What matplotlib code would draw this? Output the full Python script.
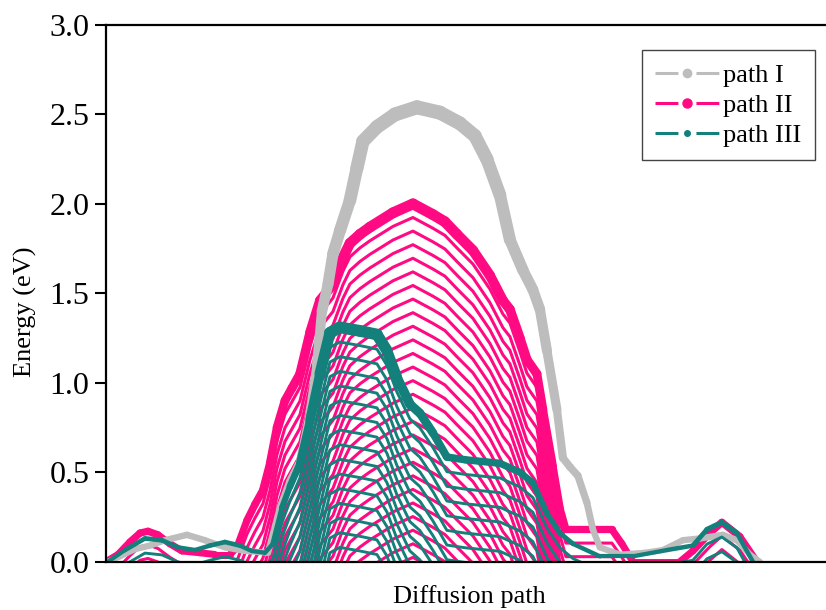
import matplotlib
matplotlib.use("Agg")
import matplotlib.pyplot as plt
from matplotlib.collections import LineCollection
from matplotlib.lines import Line2D
import numpy as np

plt.rcParams['font.family'] = ['Liberation Serif', 'DejaVu Serif']

# coordenada a lo largo del camino (unidades arbitrarias) y energia (eV)
x_path1 = [2, 14, 29, 44, 59, 81, 99, 119, 139, 162,
           174, 184, 194, 204, 211, 216, 222, 227, 234, 244,
           251, 257, 271, 289, 311, 334, 354, 369, 381, 394,
           404, 417, 427, 434, 441, 451, 457, 464, 472, 481,
           487, 494, 514, 539, 557, 577, 594, 617, 631, 644, 654]
e_path1 = [0.0, 0.03, 0.07, 0.09, 0.12, 0.15, 0.12, 0.08, 0.06, 0.05,
           0.3, 0.45, 0.56, 0.83, 1.1, 1.4, 1.55, 1.72, 1.85, 2.02,
           2.2, 2.35, 2.43, 2.5, 2.54, 2.51, 2.45, 2.38, 2.25, 2.05,
           1.8, 1.63, 1.52, 1.41, 1.18, 0.85, 0.58, 0.53, 0.48, 0.33,
           0.18, 0.08, 0.04, 0.05, 0.065, 0.12, 0.13, 0.15, 0.12, 0.04, 0.0]

x_path2 = [0, 12, 24, 34, 42, 52, 64, 76, 94, 109,
           124, 131, 141, 149, 157, 164, 171, 179, 186, 194,
           204, 214, 227, 237, 244, 254, 264, 287, 307, 327,
           339, 351, 367, 384, 397, 404, 414, 421, 431, 437,
           447, 454, 460, 484, 506, 516, 527, 574, 587, 604, 616, 634, 651]
e_path2 = [0.0, 0.04, 0.11, 0.16, 0.17, 0.15, 0.1, 0.06, 0.05, 0.04,
           0.04, 0.08, 0.23, 0.32, 0.4, 0.55, 0.75, 0.9, 0.97, 1.05,
           1.28, 1.46, 1.55, 1.7, 1.78, 1.83, 1.87, 1.95, 2.0, 1.94,
           1.9, 1.83, 1.74, 1.6, 1.46, 1.41, 1.25, 1.13, 1.05, 0.85,
           0.53, 0.3, 0.18, 0.18, 0.18, 0.1, 0.0, 0.0, 0.06, 0.16, 0.22, 0.14, 0.0]

x_path3 = [2, 19, 39, 56, 72, 89, 104, 119, 134, 146,
           159, 167, 176, 184, 194, 204, 214, 224, 234, 254,
           271, 281, 291, 304, 314, 327, 341, 359, 394, 414,
           427, 441, 454, 467, 494, 527, 561, 587, 601, 616, 631, 647]
e_path3 = [0.0, 0.065, 0.13, 0.12, 0.08, 0.065, 0.09, 0.11, 0.09, 0.06,
           0.05, 0.1, 0.3, 0.42, 0.55, 0.79, 1.05, 1.28, 1.31, 1.29,
           1.27, 1.18, 1.03, 0.88, 0.83, 0.72, 0.585, 0.57, 0.55, 0.5,
           0.44, 0.27, 0.16, 0.1, 0.03, 0.03, 0.065, 0.09, 0.18, 0.22, 0.16, 0.0]

etiquetas = ['path I', 'path II', 'path III']
yticks = [0.0, 0.5, 1.0, 1.5, 2.0, 2.5, 3.0]

gris = '#BDBDBD'
rosa = '#FF0A82'
verde = '#14807B'

fig = plt.figure(figsize=(8.26, 6.10), dpi=100)
ax = fig.add_axes([0.1283, 0.0792, 0.88, 0.8798])


def dibujar(x, e, color, paso, ancho, lw_copia):
    x = np.array(x, dtype=float)
    e = np.array(e, dtype=float)
    # copias desplazadas hacia abajo (efecto de cortina)
    if paso:
        n = int(e.max() / paso)
        for k in range(n, 0, -1):
            ax.plot(x, e - k * paso, color=color, lw=lw_copia,
                    solid_capstyle='round', solid_joinstyle='round')
    # curva principal, mas gruesa donde la energia es mayor
    pts = np.column_stack([x, e]).reshape(-1, 1, 2)
    segs = np.concatenate([pts[:-1], pts[1:]], axis=1)
    anchos = ancho[0] + ancho[1] * (e[:-1] + e[1:]) / 2
    lc = LineCollection(segs, colors=color, linewidths=anchos,
                        capstyle='round', joinstyle='round')
    ax.add_collection(lc)


dibujar(x_path2, e_path2, rosa, 0.076, (5.0, 1.45), 2.2)
dibujar(x_path1, e_path1, gris, 0, (4.3, 2.3), 2.2)
dibujar(x_path3, e_path3, verde, 0.082, (2.9, 4.3), 2.1)

ax.set_xlim(0, 727)
ax.set_ylim(0, 3.0)
ax.set_xticks([])
ax.set_yticks(yticks)
ax.set_yticklabels(['%.1f' % t for t in yticks])
ax.tick_params(axis='y', direction='out', length=8, width=1.5, labelsize=23, pad=4)
for lado in ['left', 'top', 'bottom']:
    ax.spines[lado].set_linewidth(1.6)
ax.spines['right'].set_visible(False)

ax.set_xlabel('Diffusion path', fontsize=19, labelpad=17)
ax.set_ylabel('Energy (eV)', fontsize=19)
ax.yaxis.set_label_coords(-0.095, 0.465)

manijas = [
    Line2D([], [], color=gris, lw=2.2, dashes=[7.5, 5.9], marker='o', ms=6, mec=gris),
    Line2D([], [], color=rosa, lw=2.2, dashes=[7.5, 5.9], marker='o', ms=6.5, mec=rosa),
    Line2D([], [], color=verde, lw=2.2, dashes=[7.5, 5.9], marker='o', ms=4, mec=verde),
]
leg = ax.legend(manijas, etiquetas, loc='upper left', bbox_to_anchor=(0.737, 0.953),
                borderaxespad=0, fontsize=19, handlelength=2.45, handletextpad=0.15,
                labelspacing=0.25, borderpad=0.5, numpoints=1, fancybox=False,
                framealpha=1, edgecolor='#444444')
leg.get_frame().set_linewidth(1.0)

plt.savefig('out.png', dpi=100)
